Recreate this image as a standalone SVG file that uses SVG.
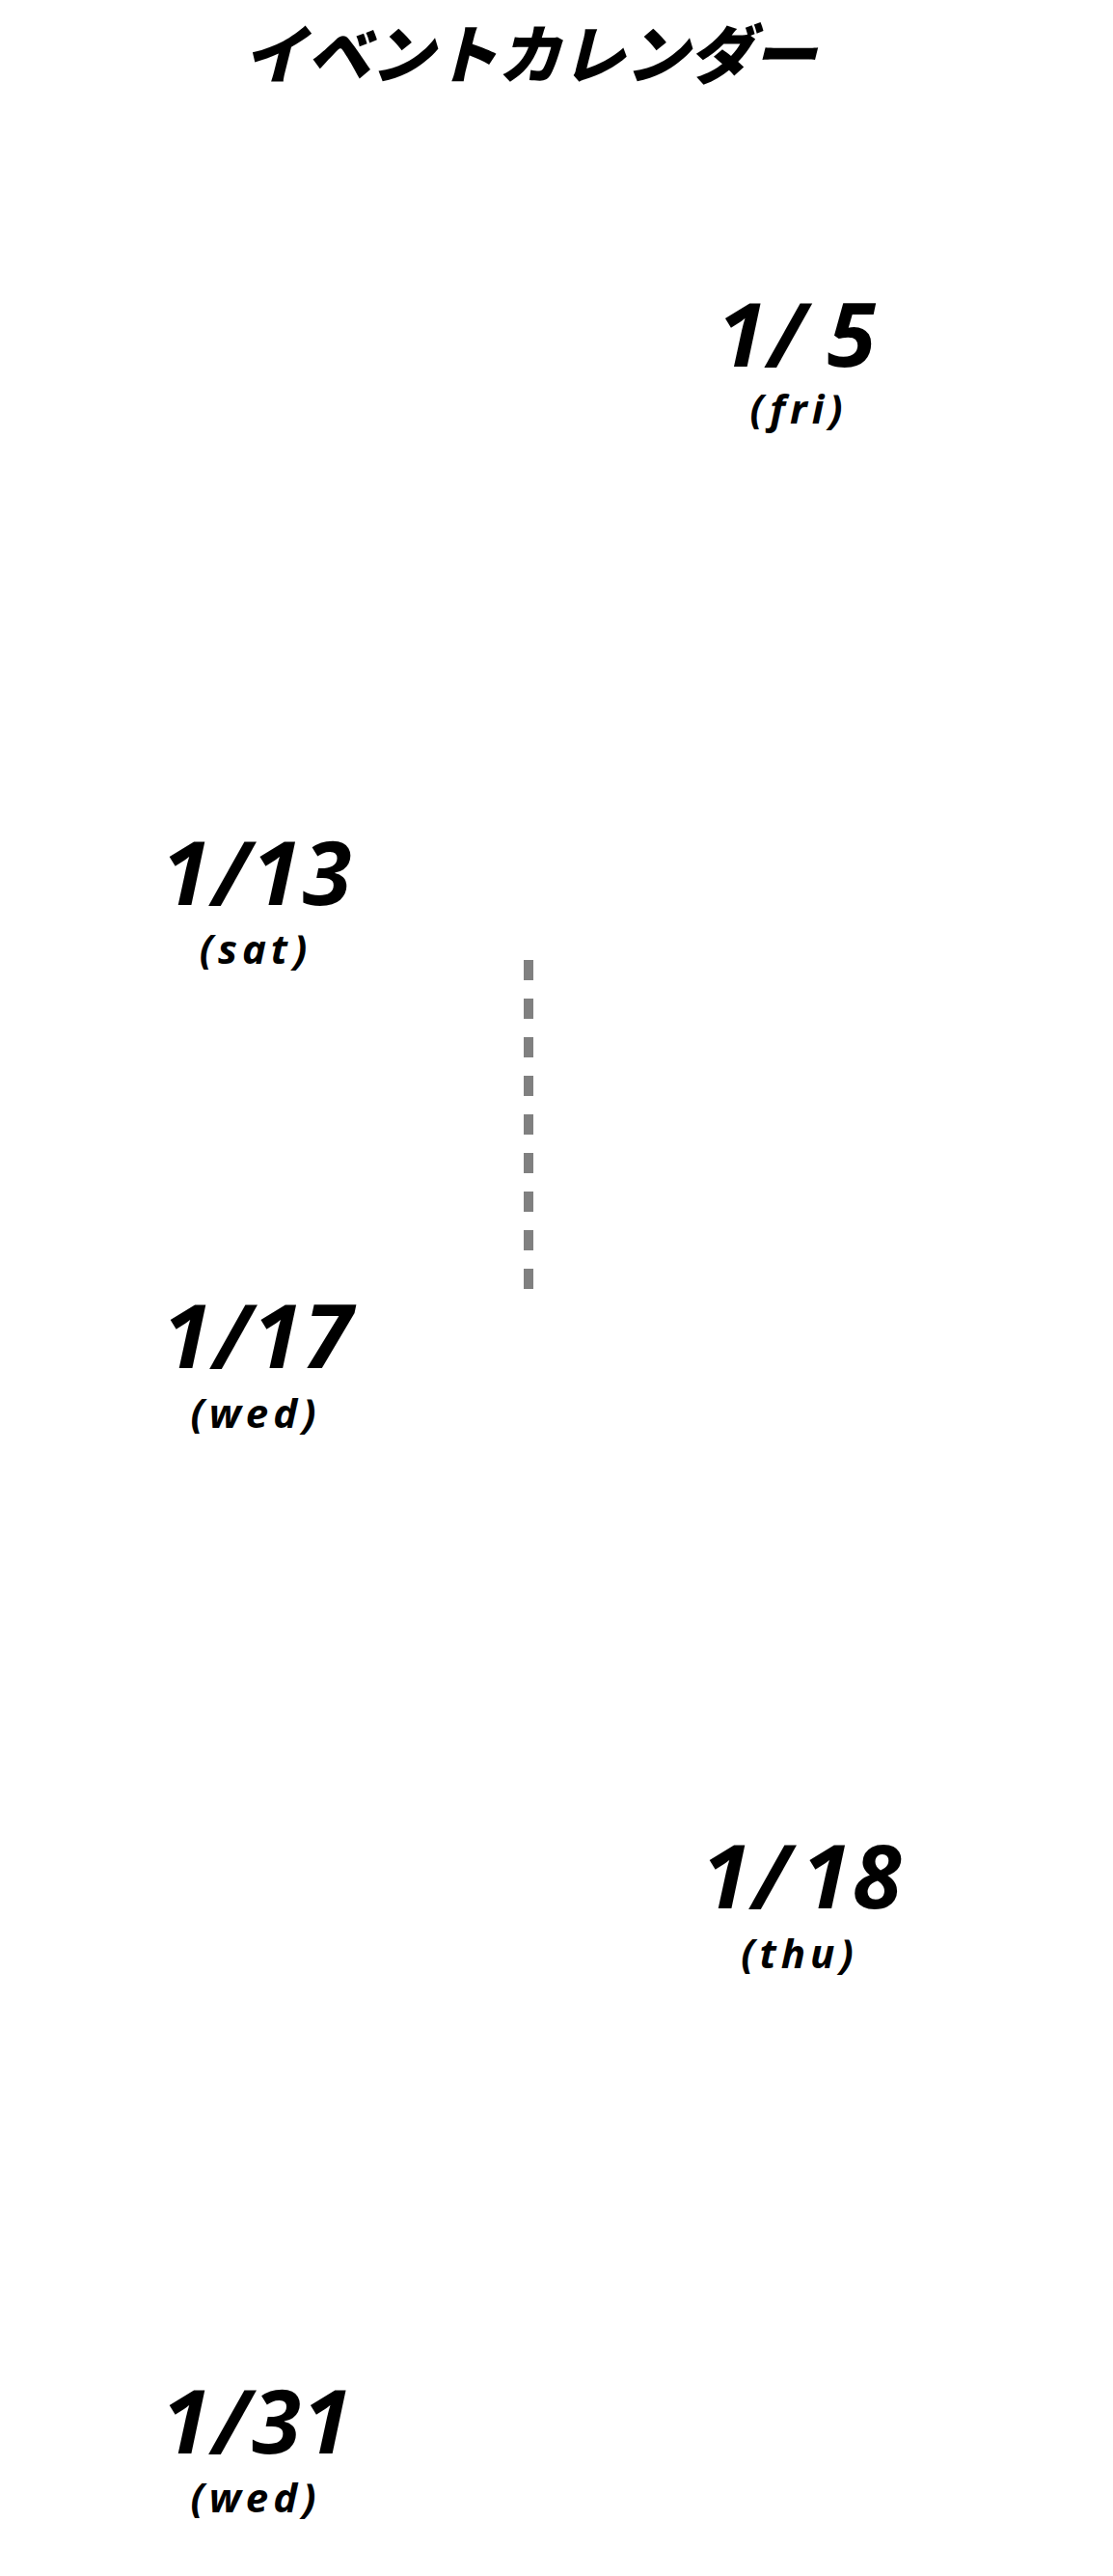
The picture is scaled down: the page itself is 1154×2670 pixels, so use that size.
<svg xmlns="http://www.w3.org/2000/svg" width="1154" height="2670" viewBox="0 0 1154 2670">
<style>
.title{font-family:"Noto Sans CJK JP","Noto Sans",sans-serif;font-weight:900;font-style:italic;font-size:66px;fill:#000;text-anchor:middle}
.date{font-family:"Noto Sans","Open Sans",sans-serif;font-weight:700;font-style:italic;font-size:92px;letter-spacing:2px;fill:#000;text-anchor:middle}
.day{font-family:"Noto Sans","Open Sans",sans-serif;font-weight:700;font-style:italic;font-size:42px;letter-spacing:5px;fill:#000;text-anchor:middle}
.dash{stroke:#808080;stroke-width:10;stroke-dasharray:21 19;fill:none}
</style>
<rect width="1154" height="2670" fill="#fff"/>
<g id="title"><text class="title" x="549" y="81">イベントカレンダー</text></g>
<g id="connectors"><line class="dash" x1="548" y1="995" x2="548" y2="1336"/></g>
<g id="node-0105"><text class="date" x="827" y="380">1/<tspan dx="20">5</tspan></text><text class="day" x="828" y="439">(fri)</text></g>
<g id="node-0113"><text class="date" x="267" y="938">1/13</text><text class="day" x="265" y="999">(sat)</text></g>
<g id="node-0117"><text class="date" x="268" y="1418">1/17</text><text class="day" x="265" y="1480">(wed)</text></g>
<g id="node-0118"><text class="date" x="832" y="1978">1/<tspan dx="10">18</tspan></text><text class="day" x="829" y="2040">(thu)</text></g>
<g id="node-0131"><text class="date" x="267" y="2543">1/31</text><text class="day" x="265" y="2604">(wed)</text></g>
</svg>
